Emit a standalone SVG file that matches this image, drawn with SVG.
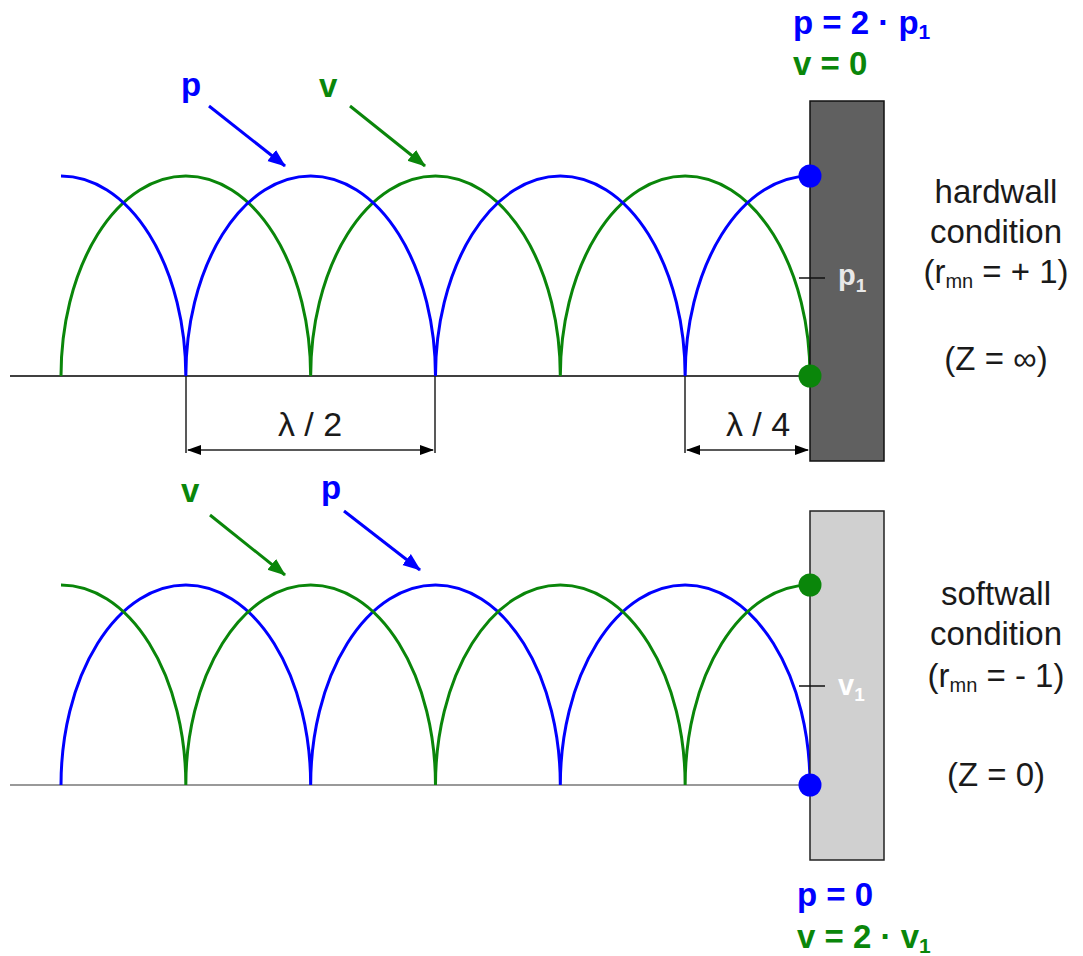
<svg xmlns="http://www.w3.org/2000/svg" width="1083" height="956" viewBox="0 0 1083 956">
<style>
text{font-family:"Liberation Sans",Arial,sans-serif}
.lbl{font-weight:bold;font-size:33px}
.b{fill:#0000ff}
.g{fill:#0a860a}
.wave{fill:none;stroke-width:3}
.sb{stroke:#0000ff}
.sg{stroke:#0a860a}
.rt{font-size:33px;fill:#1a1a1a;text-anchor:middle}
.dim{stroke:#222;stroke-width:1.5;fill:none}
.wl{font-weight:bold;font-size:29px}
</style>
<defs>
<marker id="ab" markerUnits="userSpaceOnUse" markerWidth="20" markerHeight="16" refX="17" refY="8" orient="auto"><path d="M0,1 L18,8 L0,15 Z" fill="#0000ff"/></marker>
<marker id="ag" markerUnits="userSpaceOnUse" markerWidth="20" markerHeight="16" refX="17" refY="8" orient="auto"><path d="M0,1 L18,8 L0,15 Z" fill="#0a860a"/></marker>
<marker id="ak" markerUnits="userSpaceOnUse" markerWidth="14" markerHeight="12" refX="13" refY="6" orient="auto-start-reverse"><path d="M0,1 L14,6 L0,11 Z" fill="#000"/></marker>
</defs>

<g id="top-panel">
<line x1="10" y1="376" x2="810" y2="376" stroke="#000" stroke-width="1.5"/>
<path class="wave sg" d="M61,376 A124.83,200 0 0 1 310.66,376 A124.83,200 0 0 1 560.32,376 A124.83,200 0 0 1 810,376"/>
<path class="wave sb" d="M61,176 A124.83,200 0 0 1 185.83,376 A124.83,200 0 0 1 435.49,376 A124.83,200 0 0 1 685.15,376 A124.83,200 0 0 1 810,176"/>
</g>

<g id="hardwall">
<rect x="810" y="101" width="74" height="360" fill="#606060" stroke="#111" stroke-width="1.5"/>
<line x1="799" y1="278" x2="825" y2="278" stroke="#111" stroke-width="1.5"/>
<text class="wl" x="838" y="285" fill="#e8e8e8">p<tspan font-size="19" dy="7">1</tspan></text>
<circle cx="810" cy="176" r="11.5" fill="#0000ff"/>
<circle cx="810" cy="376" r="11.5" fill="#0a860a"/>
</g>

<g id="top-labels">
<text class="lbl b" x="793" y="34">p = 2 · p<tspan font-size="21" dy="5">1</tspan></text>
<text class="lbl g" x="793" y="75">v = 0</text>
<text class="lbl b" x="181" y="96">p</text>
<text class="lbl g" x="319" y="97">v</text>
</g>

<g id="hard-text">
<text class="rt" x="996" y="203">hardwall</text>
<text class="rt" x="996" y="243">condition</text>
<text class="rt" x="996" y="283">(r<tspan font-size="20" dy="5">mn</tspan><tspan dy="-5"> = + 1)</tspan></text>
<text class="rt" x="996" y="370">(Z = ∞)</text>
</g>

<g id="dimensions">
<line class="dim" x1="186" y1="376" x2="186" y2="453"/>
<line class="dim" x1="435" y1="376" x2="435" y2="453"/>
<line class="dim" x1="685" y1="376" x2="685" y2="453"/>
<line class="dim" x1="188" y1="450" x2="433" y2="450" marker-start="url(#ak)" marker-end="url(#ak)"/>
<line class="dim" x1="687" y1="450" x2="808" y2="450" marker-start="url(#ak)" marker-end="url(#ak)"/>
<text x="310" y="436" font-size="34" fill="#1a1a1a" text-anchor="middle">λ / 2</text>
<text x="758" y="436" font-size="34" fill="#1a1a1a" text-anchor="middle">λ / 4</text>
</g>

<g id="bottom-panel">
<line x1="10" y1="785" x2="810" y2="785" stroke="#777" stroke-width="1.5"/>
<g transform="translate(0,409)">
<path class="wave sb" d="M61,376 A124.83,200 0 0 1 310.66,376 A124.83,200 0 0 1 560.32,376 A124.83,200 0 0 1 810,376"/>
<path class="wave sg" d="M61,176 A124.83,200 0 0 1 185.83,376 A124.83,200 0 0 1 435.49,376 A124.83,200 0 0 1 685.15,376 A124.83,200 0 0 1 810,176"/>
</g>
</g>

<g id="softwall">
<rect x="810" y="511" width="74" height="349" fill="#d0d0d0" stroke="#222" stroke-width="1.5"/>
<line x1="799" y1="686" x2="825" y2="686" stroke="#111" stroke-width="1.5"/>
<text class="wl" x="838" y="695" fill="#ffffff">v<tspan font-size="19" dy="6">1</tspan></text>
<circle cx="810" cy="585" r="11.5" fill="#0a860a"/>
<circle cx="810" cy="785" r="11.5" fill="#0000ff"/>
</g>

<g id="bottom-labels">
<text class="lbl g" x="181" y="502">v</text>
<text class="lbl b" x="321" y="499">p</text>
<text class="lbl b" x="797" y="906">p = 0</text>
<text class="lbl g" x="797" y="948">v = 2 · v<tspan font-size="21" dy="5">1</tspan></text>
</g>

<g id="soft-text">
<text class="rt" x="996" y="605">softwall</text>
<text class="rt" x="996" y="645">condition</text>
<text class="rt" x="996" y="687">(r<tspan font-size="20" dy="5">mn</tspan><tspan dy="-5"> = - 1)</tspan></text>
<text class="rt" x="996" y="786">(Z = 0)</text>
</g>

<g id="connectors">
<line x1="209" y1="106" x2="285" y2="166" stroke="#0000ff" stroke-width="3" marker-end="url(#ab)"/>
<line x1="350" y1="106" x2="425" y2="166" stroke="#0a860a" stroke-width="3" marker-end="url(#ag)"/>
<line x1="210" y1="515" x2="285" y2="575" stroke="#0a860a" stroke-width="3" marker-end="url(#ag)"/>
<line x1="344" y1="511" x2="420" y2="570" stroke="#0000ff" stroke-width="3" marker-end="url(#ab)"/>
</g>
</svg>
